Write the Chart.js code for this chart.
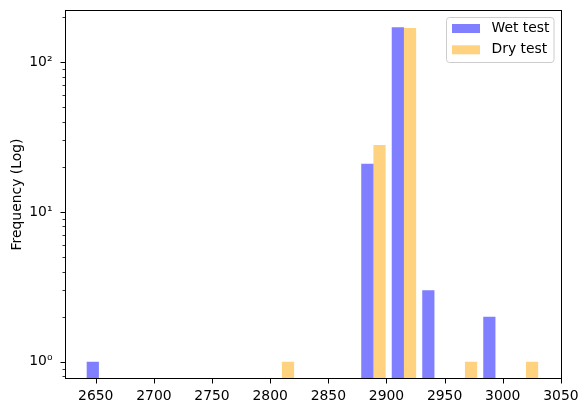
<!DOCTYPE html>
<html>
<head>
<meta charset="utf-8">
<script src="https://cdn.jsdelivr.net/npm/chart.js@4/dist/chart.umd.min.js"></script>
<style>
  body { margin: 0; background: #fff; }
  #wrap { width: 587px; height: 413px; }
</style>
</head>
<body>
<div id="wrap"><canvas id="histCanvas"></canvas></div>
<script>
// histogram bins (shared by both series)
const binStart = 2639.6;
const binWidth = 26.23;
const seriesLabels = ['Wet test', 'Dry test'];
const wetCounts = [1, 0, 0, 0, 0, 0, 0, 0, 0, 21, 171, 3, 0, 2, 0];
const dryCounts = [0, 0, 0, 0, 0, 0, 1, 0, 0, 28, 169, 0, 1, 0, 1];

// axis ticks
const xTicks = [2650, 2700, 2750, 2800, 2850, 2900, 2950, 3000, 3050];
const yMajorTicks = [1, 10, 100];
const yMinorTicks = [0.8, 0.9, 2, 3, 4, 5, 6, 7, 8, 9, 20, 30, 40, 50, 60, 70, 80, 90, 200];
const yTickText = { 1: '10\u2070', 10: '10\u00b9', 100: '10\u00b2' };

const FONT = 'DejaVu Sans';

// two bars per bin, each 0.4 of the bin wide (matplotlib side-by-side hist)
function barPoints(counts, slot) {
    const pts = [];
    counts.forEach((c, i) => {
        if (c > 0) {
            pts.push({ x: binStart + (i + 0.3 + slot * 0.4) * binWidth, y: c });
        }
    });
    return pts;
}

// y range like matplotlib autoscale on log axis (5% margin)
const maxCount = Math.max(...wetCounts, ...dryCounts);
const logMax = Math.log10(maxCount);
const yMin = Math.pow(10, -0.05 * logMax);
const yMax = Math.pow(10, 1.05 * logMax);

const framePlugin = {
    id: 'frame',
    afterDraw(chart) {
        const ctx = chart.ctx;
        const area = chart.chartArea;
        const xs = chart.scales.x;
        const ys = chart.scales.y;
        ctx.save();
        ctx.strokeStyle = '#000';

        // tick marks
        ctx.lineWidth = 1;
        xTicks.forEach(v => {
            const px = Math.round(xs.getPixelForValue(v)) + 0.5;
            ctx.beginPath();
            ctx.moveTo(px, area.bottom);
            ctx.lineTo(px, area.bottom + 5);
            ctx.stroke();
        });
        yMajorTicks.forEach(v => {
            const py = Math.round(ys.getPixelForValue(v)) + 0.5;
            ctx.beginPath();
            ctx.moveTo(area.left, py);
            ctx.lineTo(area.left - 5, py);
            ctx.stroke();
        });
        ctx.lineWidth = 0.8;
        yMinorTicks.forEach(v => {
            const py = Math.round(ys.getPixelForValue(v)) + 0.5;
            ctx.beginPath();
            ctx.moveTo(area.left, py);
            ctx.lineTo(area.left - 3, py);
            ctx.stroke();
        });

        // spines
        ctx.lineWidth = 1;
        ctx.strokeRect(area.left, area.top, area.right - area.left, area.bottom - area.top);

        // legend, upper right
        const lx = 446.5, ly = 17.5, lw = 107.5, lh = 45;
        ctx.beginPath();
        ctx.roundRect(lx, ly, lw, lh, 3);
        ctx.fillStyle = 'rgba(255,255,255,0.8)';
        ctx.fill();
        ctx.strokeStyle = '#cccccc';
        ctx.stroke();
        ctx.font = '13.9px "' + FONT + '"';
        ctx.textBaseline = 'middle';
        ctx.textAlign = 'left';
        chart.data.datasets.forEach((ds, i) => {
            const rowY = 24 + i * 21.3;
            ctx.fillStyle = ds.backgroundColor;
            ctx.fillRect(452, rowY, 28, 9);
            ctx.fillStyle = '#000';
            ctx.fillText(ds.label, 491.5, rowY + 4.5);
        });
        ctx.restore();
    }
};

const config = {
    type: 'bar',
    data: {
        datasets: [
            {
                label: seriesLabels[0],
                data: barPoints(wetCounts, 0),
                backgroundColor: 'rgba(0, 0, 255, 0.5)'
            },
            {
                label: seriesLabels[1],
                data: barPoints(dryCounts, 1),
                backgroundColor: 'rgba(255, 165, 0, 0.5)'
            }
        ]
    },
    options: {
        responsive: true,
        maintainAspectRatio: false,
        animation: false,
        events: [],
        grouped: false,
        barPercentage: 1,
        categoryPercentage: 1,
        inflateAmount: 0,
        borderWidth: 0,
        layout: { padding: { top: 10.5, right: 25.5, bottom: 0, left: 0 } },
        plugins: {
            legend: { display: false },
            tooltip: { enabled: false }
        },
        scales: {
            x: {
                type: 'linear',
                offset: false,
                min: 2624,
                max: 3050.5,
                grid: { display: false, drawTicks: false },
                border: { display: false },
                afterBuildTicks: (scale) => {
                    scale.ticks = xTicks.map(v => ({ value: v }));
                },
                afterFit: (scale) => {
                    scale.height = 34.5;
                    scale.paddingLeft = 0;
                    scale.paddingRight = 0;
                },
                ticks: {
                    autoSkip: false,
                    maxRotation: 0,
                    padding: 10,
                    color: '#000',
                    font: { family: FONT, size: 13.9 },
                    callback: (v) => String(v)
                }
            },
            y: {
                type: 'logarithmic',
                min: yMin,
                max: yMax,
                grid: { display: false, drawTicks: false },
                border: { display: false },
                afterBuildTicks: (scale) => {
                    scale.ticks = yMajorTicks.map(v => ({ value: v, major: true }));
                },
                afterFit: (scale) => {
                    scale.width = 65.5;
                    scale.paddingTop = 0;
                    scale.paddingBottom = 0;
                },
                title: {
                    display: true,
                    text: 'Frequency (Log)',
                    color: '#000',
                    font: { family: FONT, size: 13.9 },
                    padding: { top: 9, bottom: 0 }
                },
                ticks: {
                    padding: 13,
                    color: '#000',
                    font: { family: FONT, size: 13.9 },
                    callback: (v) => yTickText[v] || ''
                }
            }
        }
    },
    plugins: [framePlugin]
};

const histChart = new Chart(document.getElementById('histCanvas'), config);
</script>
</body>
</html>
